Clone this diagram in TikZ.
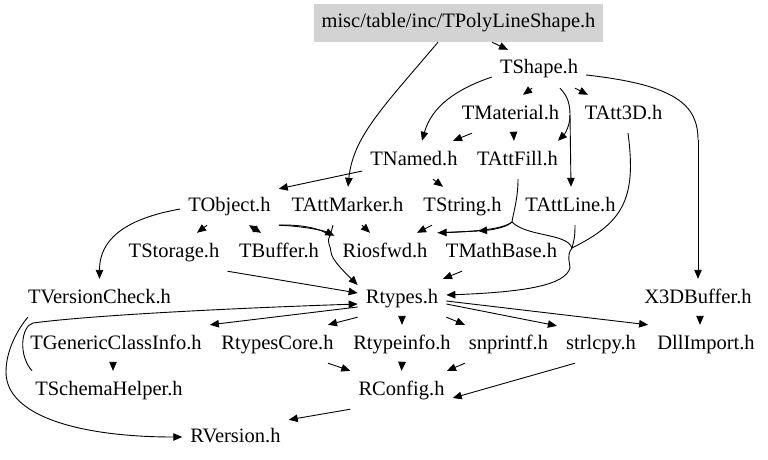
\documentclass[tikz,border=0pt]{standalone}
\usepackage{fontspec}
\setmainfont{Liberation Serif}
\usetikzlibrary{arrows.meta}
\definecolor{rootgray}{HTML}{D3D3D3}
\tikzset{
  hnode/.style={inner xsep=8pt, inner ysep=0pt, minimum height=38pt,
    text height=14pt, text depth=4pt, font=\fontsize{20.5}{24}\selectfont},
  arr/.style={draw, line width=0.9pt, -{Triangle[length=9pt,width=7.5pt]}},
  dbl/.style={draw, line width=0.9pt, {Triangle[length=8pt,width=7pt]}-{Triangle[length=8pt,width=7pt]}},
  ln/.style={draw, line width=0.9pt},
}
\begin{document}
\begin{tikzpicture}[x=1pt,y=-1pt]
\useasboundingbox (0,0) rectangle (768,460);
% nodes
\node[hnode, fill=rootgray] (root) at (458.5,23) {misc/table/inc/TPolyLineShape.h};
\node[hnode] (tshape) at (539,69) {TShape.h};
\node[hnode] (tmaterial) at (510.5,114) {TMaterial.h};
\node[hnode] (tatt3d) at (623.5,114) {TAtt3D.h};
\node[hnode] (tnamed) at (414,160) {TNamed.h};
\node[hnode] (tattfill) at (517.5,160) {TAttFill.h};
\node[hnode] (tobject) at (229.5,206) {TObject.h};
\node[hnode] (tattmarker) at (347.5,206) {TAttMarker.h};
\node[hnode] (tstring) at (462.5,206) {TString.h};
\node[hnode] (tattline) at (570.5,206) {TAttLine.h};
\node[hnode] (tstorage) at (174,252) {TStorage.h};
\node[hnode] (tbuffer) at (279,252) {TBuffer.h};
\node[hnode] (riosfwd) at (385,252) {Riosfwd.h};
\node[hnode] (tmathbase) at (501.5,252) {TMathBase.h};
\node[hnode] (tversion) at (99.5,298) {TVersionCheck.h};
\node[hnode] (rtypes) at (402,298) {Rtypes.h};
\node[hnode] (x3d) at (698,298) {X3DBuffer.h};
\node[hnode] (tgeneric) at (116,344) {TGenericClassInfo.h};
\node[hnode] (rtcore) at (277.5,344) {RtypesCore.h};
\node[hnode] (rtinfo) at (402,344) {Rtypeinfo.h};
\node[hnode] (snprintf) at (508.5,344) {snprintf.h};
\node[hnode] (strlcpy) at (601,344) {strlcpy.h};
\node[hnode] (dll) at (706,344) {DllImport.h};
\node[hnode] (tschema) at (109,390) {TSchemaHelper.h};
\node[hnode] (rconfig) at (401.5,390) {RConfig.h};
\node[hnode] (rversion) at (235.5,437) {RVersion.h};
% bend / junction points
\coordinate (j1) at (570,115);
\coordinate (b1) at (698,140);
\coordinate (j2) at (572,248);
\coordinate (j3) at (570,268);
\coordinate (j4) at (512,222);
\coordinate (m1) at (478,231);
\coordinate (j5) at (330,236);
\coordinate (j6) at (331,252);
\coordinate (j7) at (33,323);
\coordinate (j8) at (6,372);
% edges
\draw[arr] ([xshift=33.5pt]root.south) -- ([xshift=-31pt]tshape.north);
\draw[arr] ([xshift=-20.5pt]root.south) .. controls +(-55,65) and +(5,-50) .. ([xshift=0.5pt]tattmarker.north);
\draw[arr] ([yshift=-8pt]tshape.west) .. controls +(-35,12) and +(10,-35) .. ([xshift=8pt]tnamed.north);
\draw[arr] ([xshift=-7pt]tshape.south) -- ([xshift=12.5pt]tmaterial.north);
\draw[arr] ([xshift=36pt]tshape.south) -- ([xshift=-35.5pt]tatt3d.north);
\draw[ln] ([xshift=21pt]tshape.south) .. controls +(8,8) and +(0,-10) .. (j1);
\draw[arr] (j1) -- ([xshift=0.5pt]tattline.north);
\draw[arr] (j1) .. controls +(0,12) and +(6,-6) .. ([xshift=40.5pt]tattfill.north);
\draw[ln] ([yshift=-6pt]tshape.east) .. controls +(90,10) and +(0,-35) .. (b1);
\draw[arr] (b1) -- (x3d.north);
\draw[arr] ([xshift=-38.5pt]tmaterial.south) -- ([xshift=39pt]tnamed.north);
\draw[arr] ([xshift=3pt,yshift=1.5pt]tmaterial.south) -- ([xshift=-3.5pt]tattfill.north);
\draw[ln] ([xshift=4.5pt]tatt3d.south) .. controls +(9,67) and +(50,-25) .. (j2);
\draw[ln] ([xshift=4.5pt]tattline.south) .. controls +(0,12) and +(2,-8) .. (j2);
\draw[ln] (j2) .. controls +(-6,8) and +(0,-6) .. (j3);
\draw[arr] (j3) .. controls +(-5,17) and +(80,-3) .. ([yshift=3pt]rtypes.east);
\draw[ln] ([xshift=0.5pt]tattfill.south) .. controls +(0,20) and +(1,-8) .. (j4);
\draw[ln] (j4) .. controls +(15,15) and +(-5,-15) .. (j2);
\draw[arr] (j4) .. controls +(-10,8) and +(30,-1) .. ([xshift=2pt]riosfwd.north east);
\draw[arr] (j4) .. controls +(-6,6) and +(12,-1) .. (m1);
\draw[ln] (m1) -- ([xshift=2pt]riosfwd.north east);
\draw[arr] ([yshift=-11pt]tnamed.west) -- ([yshift=-2pt]tobject.north east);
\draw[arr] ([xshift=19pt]tnamed.south) -- ([xshift=-19.5pt]tstring.north);
\draw[arr] ([yshift=-3pt]tobject.west) .. controls +(-45,8) and +(0,-45) .. (tversion.north);
\draw[arr] ([xshift=-22.5pt]tobject.south) -- ([xshift=23pt]tstorage.north);
\draw[dbl] ([xshift=19.5pt]tobject.south) -- ([xshift=-18pt]tbuffer.north);
\draw[arr] (tobject.south east) .. controls +(25,1) and +(-10,-5) .. ([yshift=-3pt]riosfwd.north west);
\draw[ln] (tobject.south east) .. controls +(20,-1) and +(-8,-8) .. (j5);
\draw[arr] (j5) .. controls +(-4,6) and +(0,-6) .. (j6) .. controls +(0,8) and +(-8,-8) .. ([yshift=13pt]rtypes.west);
\draw[ln] ([xshift=-14.5pt]tattmarker.south) -- (j5);
\draw[arr] ([xshift=14.5pt]tattmarker.south) -- ([xshift=-15pt]riosfwd.north);
\draw[arr] ([xshift=-30.5pt]tstring.south) -- ([xshift=32pt]riosfwd.north);
\draw[arr] (tstorage.south east) -- ([yshift=5pt]rtypes.west);
\draw[arr] ([xshift=-39.5pt]tmathbase.south) -- ([xshift=41pt]rtypes.north);
\draw[ln] ([xshift=5pt]tschema.north west) .. controls +(-14,-15) and +(-12,3) .. (j7);
\draw[arr] (j7) .. controls +(60,-8) and +(-120,4) .. ([yshift=-6pt]rtypes.west);
\draw[arr] ([yshift=-9pt]rtypes.west) -- (tgeneric.north east);
\draw[arr] (rtypes.south west) -- ([xshift=50.5pt]rtcore.north);
\draw[arr] ([yshift=1.5pt]rtypes.south) -- (rtinfo.north);
\draw[arr] (rtypes.south east) -- ([xshift=-43.5pt]snprintf.north);
\draw[arr] ([yshift=-6pt]rtypes.east) -- ([xshift=-1pt,yshift=-1pt]strlcpy.north west);
\draw[arr] ([yshift=-3pt]rtypes.east) -- ([xshift=-1pt]dll.north west);
\draw[arr] ([xshift=2pt,yshift=1.5pt]x3d.south) -- ([xshift=-6pt]dll.north);
\draw[arr] ([xshift=-3pt,yshift=1.5pt]tgeneric.south) -- ([xshift=4pt]tschema.north);
\draw[arr] ([xshift=50.5pt]rtcore.south) -- (rconfig.north west);
\draw[arr] ([yshift=1.5pt]rtinfo.south) -- (rconfig.north);
\draw[arr] ([xshift=-43.5pt]snprintf.south) -- ([xshift=45.5pt]rconfig.north);
\draw[arr] ([xshift=-26pt]strlcpy.south) -- ([yshift=-8pt]rconfig.east);
\draw[arr] (rconfig.south west) -- ([yshift=-2pt]rversion.north east);
\draw[ln] ([xshift=8pt]tversion.south west) .. controls +(-10,12) and +(0,-22) .. (j8);
\draw[arr] (j8) .. controls +(0,45) and +(-100,0) .. (rversion.west);
\end{tikzpicture}
\end{document}
